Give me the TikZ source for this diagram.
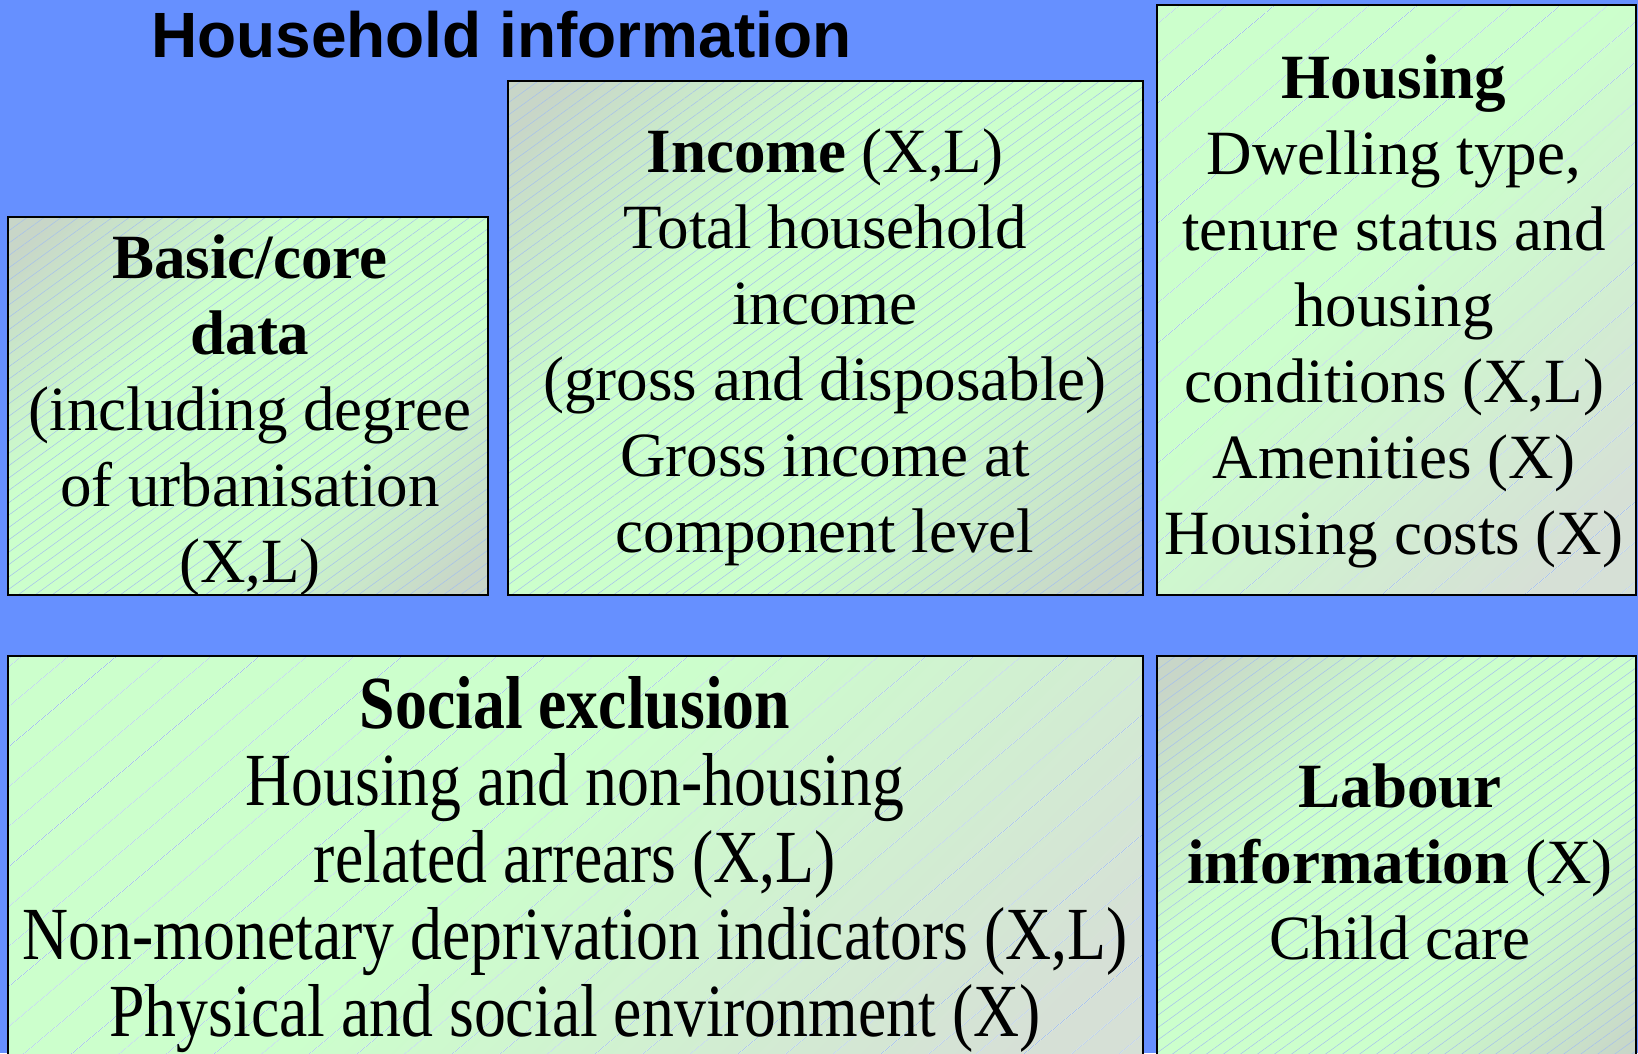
\documentclass[tikz,border=0pt]{standalone}
\usepackage{fontspec}
\setmainfont{Liberation Serif}
\newfontfamily\titlefont{Liberation Sans}
\newfontfamily\condfont[FakeStretch=0.85]{Liberation Serif}
\usetikzlibrary{patterns.meta}
\definecolor{bgblue}{RGB}{102,144,255}
\definecolor{lgreen}{RGB}{204,255,204}
\definecolor{lgray}{RGB}{200,214,200}
\definecolor{lgraytwo}{RGB}{214,224,214}
\definecolor{hatch}{RGB}{165,192,238}
\pgfdeclareverticalshading{ggshade}{100bp}{color(0bp)=(lgray); color(18bp)=(lgray); color(38bp)=(lgreen); color(62bp)=(lgreen); color(82bp)=(lgray); color(100bp)=(lgray)}
\pgfdeclareverticalshading{gfshade}{100bp}{color(0bp)=(lgraytwo); color(22bp)=(lgraytwo); color(55bp)=(lgreen); color(100bp)=(lgreen)}
\tikzset{
  box/.style={draw=black, line width=1.6pt, inner sep=0pt, outer sep=0pt},
  finehatch/.style={postaction={pattern={Lines[angle=36,distance=10pt,line width=0.5pt]}, pattern color=hatch}},
  widehatch/.style={postaction={pattern={Lines[angle=40,distance=30pt,line width=0.6pt]}, pattern color=hatch}},
  redraw/.style={postaction={draw=black, line width=1.6pt}},
  graygreen/.style={box, shading=ggshade, shading angle=45, finehatch, redraw},
  greenfade/.style={box, shading=gfshade, shading angle=45, widehatch, redraw},
  txt/.style={align=center, inner sep=0pt, anchor=base, font=\fontsize{63}{76}\selectfont},
  condtxt/.style={align=center, inner sep=0pt, anchor=base, font=\condfont\fontsize{75}{77}\selectfont},
}
\begin{document}
\begin{tikzpicture}[x=1pt,y=-1pt]
\useasboundingbox (0,0) rectangle (1638,1053);
\clip (0,0) rectangle (1638,1053);
\fill[bgblue] (0,0) rectangle (1638,1053);

\node[graygreen, minimum width=480pt, minimum height=378pt] (basic) at (248,406) {};
\node[graygreen, minimum width=635pt, minimum height=514pt] (income) at (825.5,338) {};
\node[greenfade, minimum width=479pt, minimum height=590pt] (housing) at (1396.5,300) {};
\node[greenfade, minimum width=1135pt, minimum height=434pt] (social) at (575.5,873) {};
\node[graygreen, minimum width=479pt, minimum height=434pt] (labour) at (1396.5,873) {};

\node[anchor=base west, inner sep=0pt, font=\titlefont\bfseries\fontsize{64}{76}\selectfont] (title) at (151,57) {Household information};

\node[txt] (basictxt) at (250,582) {\textbf{Basic/core}\\ \textbf{data}\\ (including degree\\ of urbanisation\\ (X,L)};
\node[txt] (incometxt) at (825,552) {\textbf{Income} (X,L)\\ Total household\\ income\\ (gross and disposable)\\ Gross income at\\ component level};
\node[txt] (housingtxt) at (1394,554) {\textbf{Housing}\\ Dwelling type,\\ tenure status and\\ housing\\ conditions (X,L)\\ Amenities (X)\\ Housing costs (X)};
\node[condtxt] (socialtxt) at (575,1036) {\textbf{Social exclusion}\\ Housing and non-housing\\ related arrears (X,L)\\ Non-monetary deprivation indicators (X,L)\\ Physical and social environment (X)};
\node[txt] (labourtxt) at (1400,959) {\textbf{Labour}\\ \textbf{information} (X)\\ Child care};
\end{tikzpicture}
\end{document}
